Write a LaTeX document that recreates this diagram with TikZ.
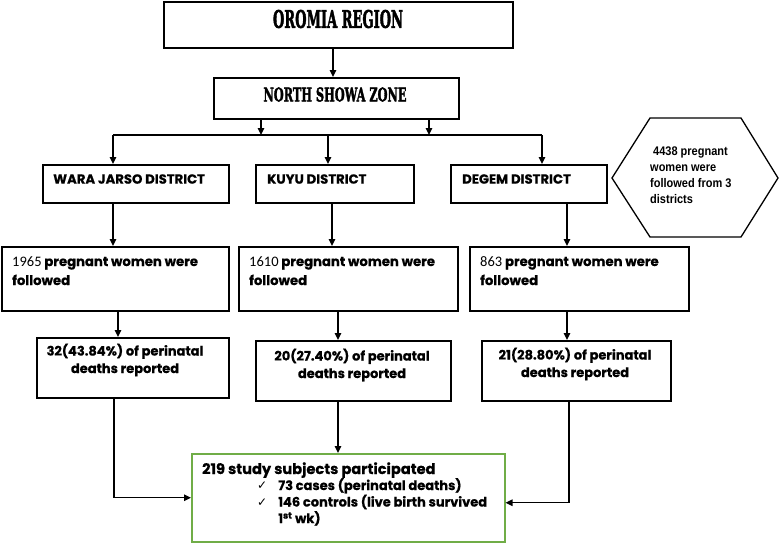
\documentclass[tikz,border=0pt]{standalone}
\usepackage{fontspec}
\usetikzlibrary{arrows.meta,calc}
\newfontfamily\headfont{DejaVu Serif}[BoldFeatures={FakeBold=2.5}]
\newfontfamily\bodyfont{Poppins}[BoldFeatures={FakeBold=0.6}]
\newfontfamily\numfont{Carlito}
\newfontfamily\hexfont{Liberation Sans}[FakeStretch=0.88]
\newfontfamily\symfont{DejaVu Sans}
\definecolor{boxgreen}{RGB}{112,173,71}
\begin{document}
\begin{tikzpicture}[x=1pt,y=-1pt,
  box/.style={draw, line width=1.5pt, inner sep=0pt, anchor=north west},
  arr/.style={line width=1.3pt, -{Triangle[length=7pt,width=6.5pt]}},
  ln/.style={line width=1.3pt},
  lbl/.style={inner sep=0pt, font=\bodyfont\bfseries\fontsize{13.2}{19}\selectfont, align=left},
  clbl/.style={inner sep=0pt, font=\bodyfont\bfseries\fontsize{13}{17.5}\selectfont, align=center, anchor=base},
]
\useasboundingbox (0,0) rectangle (780,542);
\fill[white] (0,0) rectangle (780,542);

% top boxes
\node[box, minimum width=349, minimum height=46] (oromia) at (163,1) {};
\node[inner sep=0pt] (oromiat) at (338,19) {\resizebox{130pt}{18pt}{\headfont\bfseries OROMIA REGION}};
\node[box, minimum width=245, minimum height=41] (zone) at (213,77) {};
\node[inner sep=0pt] (zonet) at (335,94.5) {\resizebox{143pt}{14pt}{\headfont\bfseries NORTH SHOWA ZONE}};

% districts
\node[box, minimum width=186, minimum height=38] (w1) at (42,164) {};
\node[box, minimum width=158, minimum height=38] (k1) at (255,164) {};
\node[box, minimum width=156, minimum height=38] (d1) at (450,164) {};
\node[lbl, anchor=west] (w1t) at (53,179) {WARA JARSO DISTRICT};
\node[lbl, anchor=west] (k1t) at (267,179) {KUYU DISTRICT};
\node[lbl, anchor=west] (d1t) at (462,179) {DEGEM DISTRICT};

% hexagon note
\draw[line width=1.3pt] (612,178) -- (650,118) -- (741,118) -- (778,178) -- (741,237) -- (650,237) -- cycle;
\node[inner sep=0pt, anchor=base west, align=left, font=\hexfont\bfseries\fontsize{12.5}{16}\selectfont] (hext) at (650,203)
  {\hspace{3pt}4438 pregnant\\women were\\followed from 3\\districts};

% pregnant women boxes
\node[box, minimum width=227, minimum height=64] (w2) at (1,246) {};
\node[box, minimum width=219, minimum height=64] (k2) at (238,246) {};
\node[box, minimum width=219, minimum height=64] (d2) at (469,246) {};
\node[lbl, anchor=base west] (w2t) at (12,285) {{\numfont\mdseries\fontsize{14.5}{19}\selectfont 1965} pregnant women were\\followed};
\node[lbl, anchor=base west] (k2t) at (249,285) {{\numfont\mdseries\fontsize{14.5}{19}\selectfont 1610} pregnant women were\\followed};
\node[lbl, anchor=base west] (d2t) at (480,285) {{\numfont\mdseries\fontsize{14.5}{19}\selectfont 863} pregnant women were\\followed};

% perinatal deaths boxes
\node[box, minimum width=192, minimum height=60] (w3) at (36,337) {};
\node[box, minimum width=195, minimum height=60] (k3) at (255,340) {};
\node[box, minimum width=189, minimum height=60] (d3) at (481,340) {};
\node[clbl] (w3t) at (125,373) {32(43.84\%) of perinatal\\deaths reported};
\node[clbl] (k3t) at (352,378) {20(27.40\%) of perinatal\\deaths reported};
\node[clbl] (d3t) at (575,377) {21(28.80\%) of perinatal\\deaths reported};

% final box
\node[box, draw=boxgreen, minimum width=313, minimum height=88] (fin) at (191,453) {};
\node[lbl, anchor=base west, font=\bodyfont\bfseries\fontsize{14.6}{16.5}\selectfont] (fint) at (202,474) {219 study subjects participated};
\node[inner sep=0pt, anchor=base west, font=\symfont\fontsize{12}{16.5}\selectfont, align=left] (chk) at (257,506) {✓\\✓};
\node[lbl, anchor=base west, font=\bodyfont\bfseries\fontsize{13}{16.5}\selectfont] (finl) at (278,523)
  {73 cases (perinatal deaths)\\146 controls (live birth survived\\1\textsuperscript{st} wk)};

% connector x positions
\coordinate (barL) at (113,135);
\coordinate (barR) at (542,135);
\coordinate (bk) at (328,135);
\coordinate (bz1) at (261,135);
\coordinate (bz2) at (429,135);
\coordinate (xo) at (333,0);
\coordinate (kx1) at (332,0);
\coordinate (dx1) at (567,0);
\coordinate (wx2) at (118,0);
\coordinate (kx2) at (338,0);
\coordinate (wx3) at (114,0);
\coordinate (dx3) at (569,0);
\coordinate (finR) at ([yshift=-5pt]fin.east);

\draw[arr] (xo |- oromia.south) -- (xo |- zone.north);
\draw[arr] (bz1 |- zone.south) -- (bz1);
\draw[arr] (bz2 |- zone.south) -- (bz2);
\draw[ln] (barL) -- (barR);
\draw[arr] (barL) -- (barL |- w1.north);
\draw[arr] (bk) -- (bk |- k1.north);
\draw[arr] (barR) -- (barR |- d1.north);

\draw[arr] (barL |- w1.south) -- (barL |- w2.north);
\draw[arr] (kx1 |- k1.south) -- (kx1 |- k2.north);
\draw[arr] (dx1 |- d1.south) -- (dx1 |- d2.north);

\draw[arr] (wx2 |- w2.south) -- (wx2 |- w3.north);
\draw[arr] (kx2 |- k2.south) -- (kx2 |- k3.north);
\draw[arr] (dx1 |- d2.south) -- (dx1 |- d3.north);

\draw[arr] (wx3 |- w3.south) -- (wx3 |- fin.west) -- (fin.west);
\draw[arr] (kx2 |- k3.south) -- (kx2 |- fin.north);
\draw[arr] (dx3 |- d3.south) -- (dx3 |- finR) -- (finR);
\end{tikzpicture}
\end{document}
